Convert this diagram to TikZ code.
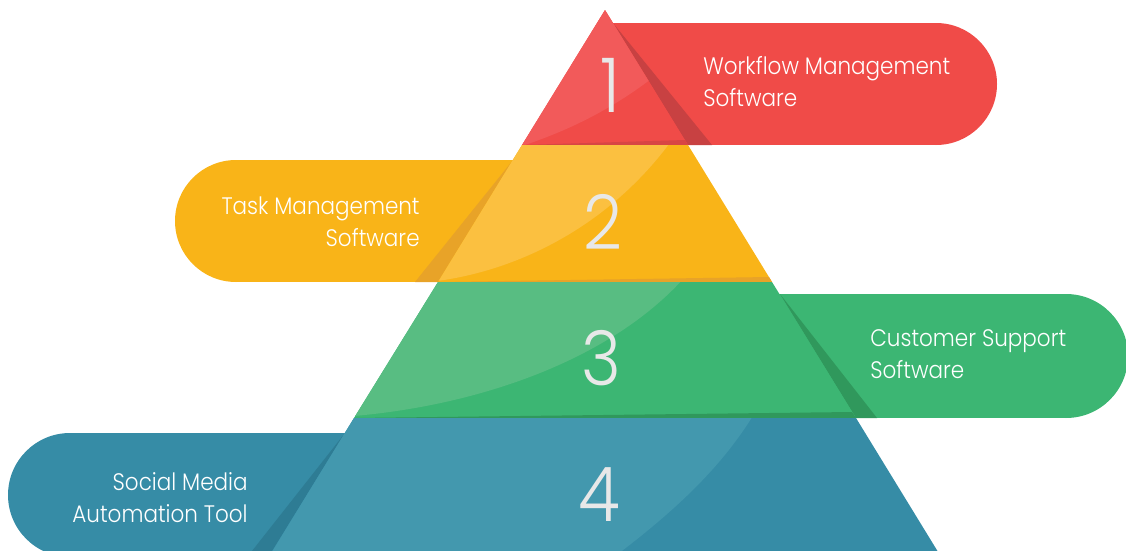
\documentclass[tikz,border=0pt]{standalone}
\usepackage{fontspec}
\newfontfamily\pyrfont{Poppins}[UprightFont=* Light, FakeStretch=0.9]
\usepackage{tikz}
\usetikzlibrary{positioning}

\begin{document}
\begin{tikzpicture}[x=0.02cm, y=-0.02cm,
    lbl/.style={font=\pyrfont\fontsize{13.6}{18.2}\selectfont, text=white, inner sep=0pt},
    num/.style={font=\pyrfont\fontsize{43}{43}\selectfont, text=numgray, inner sep=0pt}]
        % Colours of the four levels (base, light, dark)
        \definecolor{red0}{RGB}{240,75,72}
        \definecolor{red1}{RGB}{242,90,90}
        \definecolor{red2}{RGB}{200,65,66}
        \definecolor{yel0}{RGB}{249,180,24}
        \definecolor{yel1}{RGB}{251,192,64}
        \definecolor{yel2}{RGB}{232,163,40}
        \definecolor{grn0}{RGB}{60,182,115}
        \definecolor{grn1}{RGB}{88,189,130}
        \definecolor{grn2}{RGB}{48,152,92}
        \definecolor{blu0}{RGB}{54,140,166}
        \definecolor{blu1}{RGB}{67,152,174}
        \definecolor{blu2}{RGB}{46,124,148}
        \definecolor{numgray}{RGB}{232,232,232}

        % Pill radius
        \def\pillr{61}

        \useasboundingbox (0,0) rectangle (1126,551);
        \clip (0,0) rectangle (1126,551);

        % Pills behind the pyramid
        \fill[red0] (600,23) rectangle (936,145);
        \fill[red0] (936,84) circle[radius=\pillr];
        \fill[yel0] (236,160) rectangle (530,282);
        \fill[yel0] (236,221) circle[radius=\pillr];
        \fill[grn0] (770,294) rectangle (1066,418);
        \fill[grn0] (1066,356) circle[radius=62];
        \fill[blu0] (70,433) rectangle (360,560);
        \fill[blu0] (70,495) circle[radius=62];

        % Shadows cast on the pills
        \fill[red2] (613,23) -- (712,145) -- (688,145) -- cycle;
        \fill[yel2] (513,160) -- (415,282) -- (438,282) -- cycle;
        \fill[grn2] (780,294) -- (877,418) -- (856,418) -- cycle;
        \fill[blu2] (345,433) -- (252,551) -- (272,551) -- cycle;

        % Level 1
        \fill[red0] (605,10) -- (688,145) -- (522,145) -- cycle;
        \begin{scope}
            \clip (605,10) -- (688,145) -- (522,145) -- cycle;
            \fill[red1] (660,72) .. controls (615,108) and (570,130) .. (522,146) -- (480,146) -- (480,0) -- (680,0) -- cycle;
        \end{scope}
        \fill[red2!60!red0] (522,145) -- (688,145) -- (685,140) -- cycle;

        % Level 2
        \fill[yel0] (522,145) -- (688,145) -- (772,282) -- (438,282) -- cycle;
        \begin{scope}
            \clip (522,145) -- (688,145) -- (772,282) -- (438,282) -- cycle;
            \fill[yel1] (672,140) .. controls (610,225) and (520,270) .. (437,281) -- (400,285) -- (400,140) -- cycle;
        \end{scope}
        \fill[yel2] (438,282) -- (772,282) -- (769,277) -- cycle;

        % Level 3
        \fill[grn0] (438,282) -- (772,282) -- (856,418) -- (354,418) -- cycle;
        \begin{scope}
            \clip (438,282) -- (772,282) -- (856,418) -- (354,418) -- cycle;
            \fill[grn1] (684,278) .. controls (610,360) and (480,405) .. (354,416) -- (330,420) -- (330,278) -- cycle;
        \end{scope}
        \fill[grn2] (354,418) -- (856,418) -- (852,412) -- cycle;

        % Level 4
        \fill[blu0] (354,418) -- (856,418) -- (943,560) -- (267,560) -- cycle;
        \begin{scope}
            \clip (354,418) -- (856,418) -- (943,560) -- (267,560) -- cycle;
            \fill[blu1] (754,414) .. controls (720,470) and (670,515) .. (610,560) -- (250,560) -- (250,414) -- cycle;
        \end{scope}

        % Numbers
        \node[num] (n1) at (610,85) {1};
        \node[num] (n2) at (603,222) {2};
        \node[num] (n3) at (601,358) {3};
        \node[num] (n4) at (599,495) {4};

        % Labels
        \node[lbl, align=left, anchor=west] (t1) at (703,82) {Workflow Management\\Software};
        \node[lbl, align=right, anchor=east] (t2) at (420,222) {Task Management\\Software};
        \node[lbl, align=left, anchor=west] (t3) at (870,354) {Customer Support\\Software};
        \node[lbl, align=right, anchor=east] (t4) at (248,498) {Social Media\\Automation Tool};
    \end{tikzpicture}
\end{document}
